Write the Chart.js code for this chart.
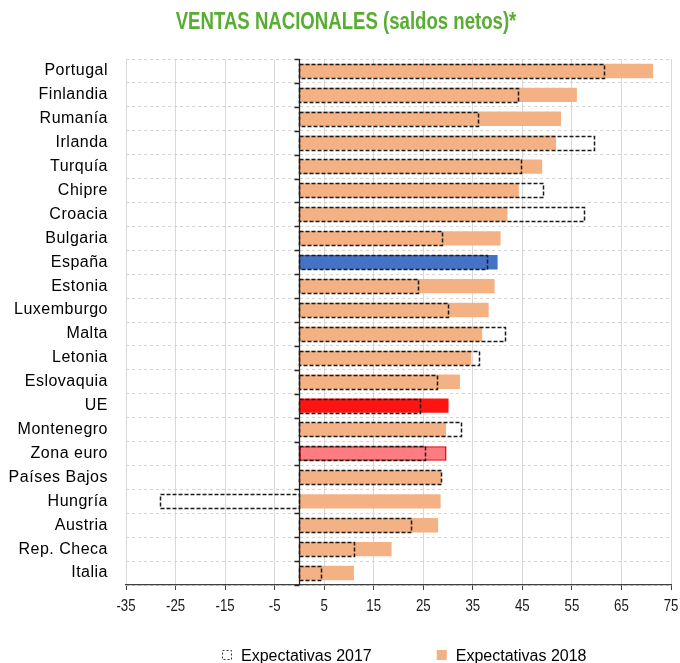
<!DOCTYPE html>
<html>
<head>
<meta charset="utf-8">
<script src="https://cdn.jsdelivr.net/npm/chart.js@4.4.0/dist/chart.umd.min.js"></script>
<style>
  html, body { margin: 0; padding: 0; background: #fff; }
  #wrap { width: 680px; height: 663px; }
</style>
</head>
<body>
<div id="wrap"><canvas id="chart" width="680" height="663"></canvas></div>
<script>
// ── Data ──────────────────────────────────────────────────────────────────────
const countries = ['Portugal','Finlandia','Rumanía','Irlanda','Turquía','Chipre','Croacia','Bulgaria',
  'España','Estonia','Luxemburgo','Malta','Letonia','Eslovaquia','UE','Montenegro','Zona euro',
  'Países Bajos','Hungría','Austria','Rep. Checa','Italia'];
const exp2017 = [61.6, 44.2, 36.2, 59.5, 44.9, 49.3, 57.5, 28.8,
  37.9, 24.0, 30.1, 41.6, 36.3, 27.8, 24.5, 32.6, 25.4,
  28.7, -28.1, 22.7, 11.2, 4.4];
const exp2018 = [71.4, 56.0, 52.8, 51.8, 49.0, 44.3, 42.0, 40.6,
  40.0, 39.4, 38.2, 36.9, 34.7, 32.4, 30.1, 29.6, 29.7,
  28.6, 28.5, 28.0, 18.6, 11.0];
const xTicks = [-35, -25, -15, -5, 5, 15, 25, 35, 45, 55, 65, 75];
const seriesNames = ['Expectativas 2017', 'Expectativas 2018'];
const TITLE = 'VENTAS NACIONALES (saldos netos)*';

// ── Styles ────────────────────────────────────────────────────────────────────
const SANS = "'Liberation Sans', Arial, sans-serif";
const ORANGE = '#f4b183';
const fill2018 = countries.map(c =>
  c === 'España' ? '#4472c4' : c === 'UE' ? '#ff1414' : c === 'Zona euro' ? '#ff7c80' : ORANGE);
const border2018 = countries.map(c => c === 'Zona euro' ? '#e00000' : 'rgba(0,0,0,0)');
const borderW2018 = countries.map(c => c === 'Zona euro' ? 1.5 : 0);

// condensed text helper (the original uses a narrow face)
function narrowText(ctx, text, cx, baseline, font, color, squeeze) {
  ctx.save();
  ctx.letterSpacing = '0px';
  ctx.font = font;
  ctx.fillStyle = color;
  ctx.textAlign = 'center';
  ctx.textBaseline = 'alphabetic';
  ctx.translate(cx, baseline);
  ctx.scale(squeeze, 1);
  ctx.fillText(text, 0, 0);
  ctx.restore();
}

// slightly wider tracking for category labels
const tracking = {
  id: 'tracking',
  beforeDraw(chart) { chart.ctx.letterSpacing = '0.5px'; }
};

// title + x tick labels in narrow style
const narrowLabels = {
  id: 'narrowLabels',
  afterDraw(chart) {
    const { ctx, scales: { x } } = chart;
    narrowText(ctx, TITLE, 346, 29, 'bold 24px ' + SANS, '#58ad32', 0.775);
    xTicks.forEach(v => {
      narrowText(ctx, String(v), x.getPixelForValue(v), x.top + 26, '17px ' + SANS, '#1a1a1a', 0.78);
    });
  }
};

// dashed outlines for the 2017 series (bar elements can't dash their border)
const dashedBars = {
  id: 'dashedBars',
  afterDatasetsDraw(chart) {
    const ctx = chart.ctx;
    const meta = chart.getDatasetMeta(0);
    ctx.save();
    ctx.strokeStyle = '#1a1a1a';
    ctx.lineWidth = 1.5;
    ctx.setLineDash([4, 2]);
    meta.data.forEach(el => {
      const l = Math.min(el.x, el.base), r = Math.max(el.x, el.base);
      const t = el.y - el.height / 2;
      ctx.strokeRect(Math.round(l) + 0.5, Math.round(t) + 0.5, Math.round(r - l), Math.round(el.height));
    });
    ctx.restore();
  }
};

// zero axis line with category tick marks
const zeroAxis = {
  id: 'zeroAxis',
  afterDatasetsDraw(chart) {
    const { ctx, chartArea: a, scales: { x } } = chart;
    const x0 = Math.round(x.getPixelForValue(0)) + 0.5;
    ctx.save();
    ctx.strokeStyle = '#262626';
    ctx.lineWidth = 1.3;
    ctx.beginPath();
    ctx.moveTo(x0, a.top);
    ctx.lineTo(x0, a.bottom);
    const n = countries.length;
    for (let i = 0; i <= n; i++) {
      const yy = Math.round(a.top + i * (a.bottom - a.top) / n) + 0.5;
      ctx.moveTo(x0 - 5, yy);
      ctx.lineTo(x0, yy);
    }
    ctx.stroke();
    ctx.restore();
  }
};

// bottom legend
const bottomLegend = {
  id: 'bottomLegend',
  afterDraw(chart) {
    const ctx = chart.ctx;
    ctx.save();
    ctx.letterSpacing = '0px';
    ctx.font = '16px ' + SANS;
    ctx.textBaseline = 'alphabetic';
    const base = 661, box = 10, gap = 9, between = 65;
    let cx = 222;
    seriesNames.forEach((name, i) => {
      if (i === 0) {
        ctx.fillStyle = '#fff';
        ctx.fillRect(cx, base - 11, box, box);
        ctx.strokeStyle = '#333';
        ctx.lineWidth = 1;
        ctx.setLineDash([2, 2]);
        ctx.strokeRect(cx + 0.5, base - 10.5, box - 1, box - 1);
        ctx.setLineDash([]);
      } else {
        ctx.fillStyle = ORANGE;
        ctx.fillRect(cx, base - 11, box, box);
      }
      ctx.fillStyle = '#000';
      ctx.fillText(name, cx + box + gap, base);
      cx += box + gap + ctx.measureText(name).width + between;
    });
    ctx.restore();
  }
};

new Chart(document.getElementById('chart'), {
  type: 'bar',
  data: {
    labels: countries,
    datasets: [
      {
        label: seriesNames[0],
        data: exp2017,
        backgroundColor: 'rgba(0,0,0,0)',
        borderWidth: 0,
        barPercentage: 0.6,
        categoryPercentage: 1,
      },
      {
        label: seriesNames[1],
        data: exp2018,
        backgroundColor: fill2018,
        borderColor: border2018,
        borderWidth: borderW2018,
        borderSkipped: false,
        barPercentage: 0.6,
        categoryPercentage: 1,
      }
    ]
  },
  options: {
    indexAxis: 'y',
    responsive: false,
    animation: false,
    devicePixelRatio: 1,
    layout: { padding: { left: 0, right: 9, top: 59, bottom: 44 } },
    scales: {
      x: {
        min: -35, max: 75,
        stacked: false,
        afterBuildTicks: s => { s.ticks = xTicks.map(v => ({ value: v })); },
        afterFit: s => { s.height = 34; },
        ticks: { display: false },
        grid: { color: '#d9d9d9', tickColor: '#404040', tickLength: 5 },
        border: { color: '#404040', width: 1.3 },
      },
      y: {
        stacked: true,
        afterFit: s => { s.width = 126; },
        ticks: { font: { family: SANS, size: 16 }, color: '#000', padding: 18 },
        grid: { color: '#d4d4d4', drawTicks: false },
        border: { display: false, dash: [3, 3] },
      }
    },
    plugins: {
      legend: { display: false },
      tooltip: { enabled: false },
      title: { display: false }
    }
  },
  plugins: [tracking, zeroAxis, dashedBars, narrowLabels, bottomLegend]
});
</script>
</body>
</html>
